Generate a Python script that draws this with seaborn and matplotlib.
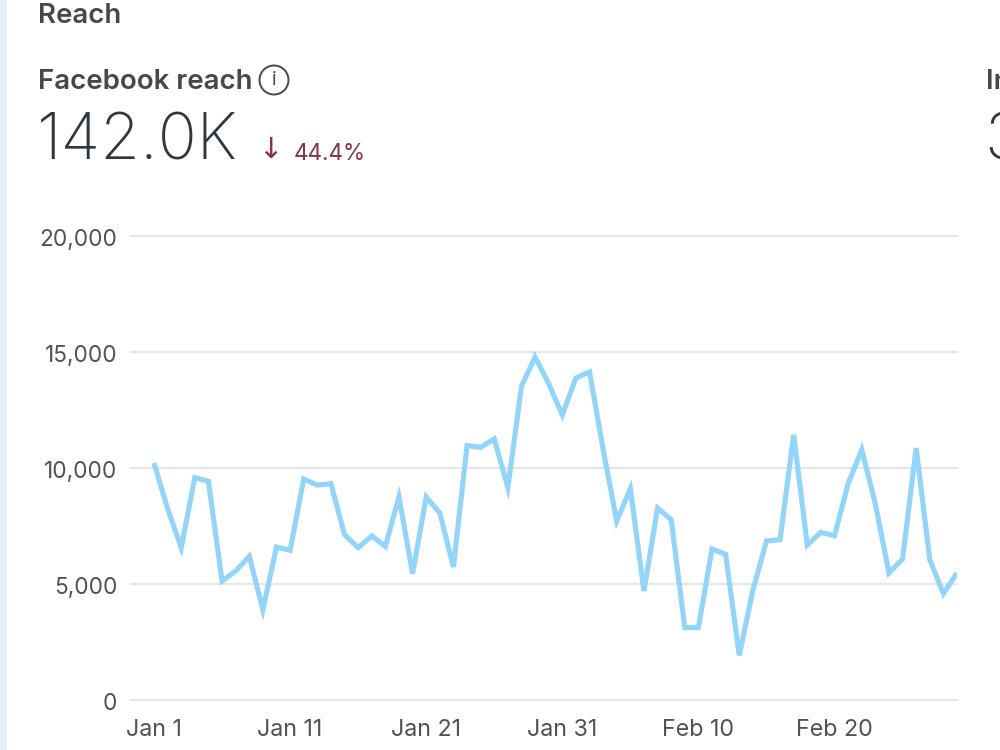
import matplotlib
matplotlib.use("Agg")
import matplotlib.pyplot as plt
from matplotlib.patches import Circle, Rectangle
from matplotlib.transforms import ScaledTranslation
import pandas as pd
import seaborn as sns

# Daily Facebook reach, Jan 1 to Feb 29
reach = [10215, 8250, 6566, 9583, 9425, 5129, 5560, 6193, 3894, 6595,
         6451, 9526, 9267, 9325, 7126, 6566, 7069, 6623, 8750, 5445,
         8750, 8060, 5733, 10963, 10890, 11250, 9152, 13520, 14785, 13635,
         12284, 13880, 14140, 10800, 7716, 9109, 4698, 8276, 7773, 3118,
         3118, 6509, 6279, 1925, 4727, 6853, 6911, 11437, 6681, 7227,
         7083, 9325, 10790, 8462, 5474, 6078, 10862, 6049, 4583, 5474]
start_date = "2024-01-01"
y_ticks = [0, 5000, 10000, 15000, 20000]
x_tick_dates = ["2024-01-01", "2024-01-11", "2024-01-21", "2024-01-31",
                "2024-02-10", "2024-02-20"]
x_tick_labels = ["Jan 1", "Jan 11", "Jan 21", "Jan 31", "Feb 10", "Feb 20"]

section_title = "Reach"
metric_title = "Facebook reach"
metric_total = "142.0K"
metric_change = "44.4%"

INK = "#444950"
DARK = "#2f3840"
RED = "#8a3348"
LINE = "#93d5fa"
GRID = "#e6e6e6"
TICK = "#4f5358"

sns.set_theme(style="white")
plt.rcParams["font.family"] = ["Inter", "DejaVu Sans"]

W, H = 1000, 750
fig = plt.figure(figsize=(W / 100, H / 100), dpi=100, facecolor="white")

# Plot area in pixel fractions
left, right, top, bottom = 131, 957, 236, 700
ax = fig.add_axes([left / W, 1 - bottom / H, (right - left) / W, (bottom - top) / H])

df = pd.DataFrame({"date": pd.date_range(start_date, periods=len(reach)), "reach": reach})
sns.lineplot(data=df, x="date", y="reach", ax=ax, color=LINE, linewidth=3.7, zorder=3)
ax.lines[0].set_solid_joinstyle("miter")
ax.lines[0].set_solid_capstyle("butt")

day_px = 13.61
first = df["date"].iloc[0]
last = df["date"].iloc[-1]
ax.set_xlim(first - pd.Timedelta(days=(154 - left) / day_px), last)
ax.set_ylim(0, 20000)
ax.set_xlabel("")
ax.set_ylabel("")
for s in ax.spines.values():
    s.set_visible(False)

ax.set_yticks(y_ticks)
ax.set_yticklabels([f"{v:,}" for v in y_ticks])
ax.set_xticks(pd.to_datetime(x_tick_dates))
ax.set_xticklabels(x_tick_labels)
ax.yaxis.grid(True, color=GRID, linewidth=1.6, zorder=0)
ax.xaxis.grid(False)
ax.tick_params(axis="y", length=0, pad=10, labelsize=16.3, labelcolor=TICK)
ax.tick_params(axis="x", length=0, pad=14, labelsize=16.8, labelcolor=TICK)
for gl in ax.get_ygridlines():
    gl.set_clip_on(False)

# Nudge the value labels slightly below their gridlines
nudge = ScaledTranslation(0, -2 / 100, fig.dpi_scale_trans)
for label in ax.get_yticklabels():
    label.set_transform(label.get_transform() + nudge)

# Page header drawn on a pixel-coordinate overlay
ov = fig.add_axes([0, 0, 1, 1], facecolor="none")
ov.set_xlim(0, W)
ov.set_ylim(H, 0)
ov.axis("off")

ov.add_patch(Rectangle((0, 0), 7, H, facecolor="#e4effa", edgecolor="none"))
ov.text(38, 23, section_title, fontsize=19.9, fontweight="semibold", color=INK, va="baseline", ha="left")
ov.text(38, 89, metric_title, fontsize=19.9, fontweight="semibold", color=INK, va="baseline", ha="left")
ov.add_patch(Circle((274, 80), 14.5, facecolor="none", edgecolor=INK, linewidth=1.4))
ov.text(274, 80, "i", fontsize=14, color=INK, va="center", ha="center")
ov.text(37, 160, metric_total, fontsize=46.5, fontweight="light", color=DARK, va="baseline", ha="left")
ov.text(270, 150, "\u2193", fontsize=21, color=RED, va="center", ha="center", family="DejaVu Sans")
ov.text(294, 160, metric_change, fontsize=16.2, color=RED, va="baseline", ha="left")
ov.text(986, 89, "In", fontsize=19.9, fontweight="semibold", color=INK, va="baseline", ha="left")
ov.text(984, 160, "3", fontsize=46.5, fontweight="light", color=DARK, va="baseline", ha="left")

fig.savefig("out.png", dpi=100, facecolor="white")
